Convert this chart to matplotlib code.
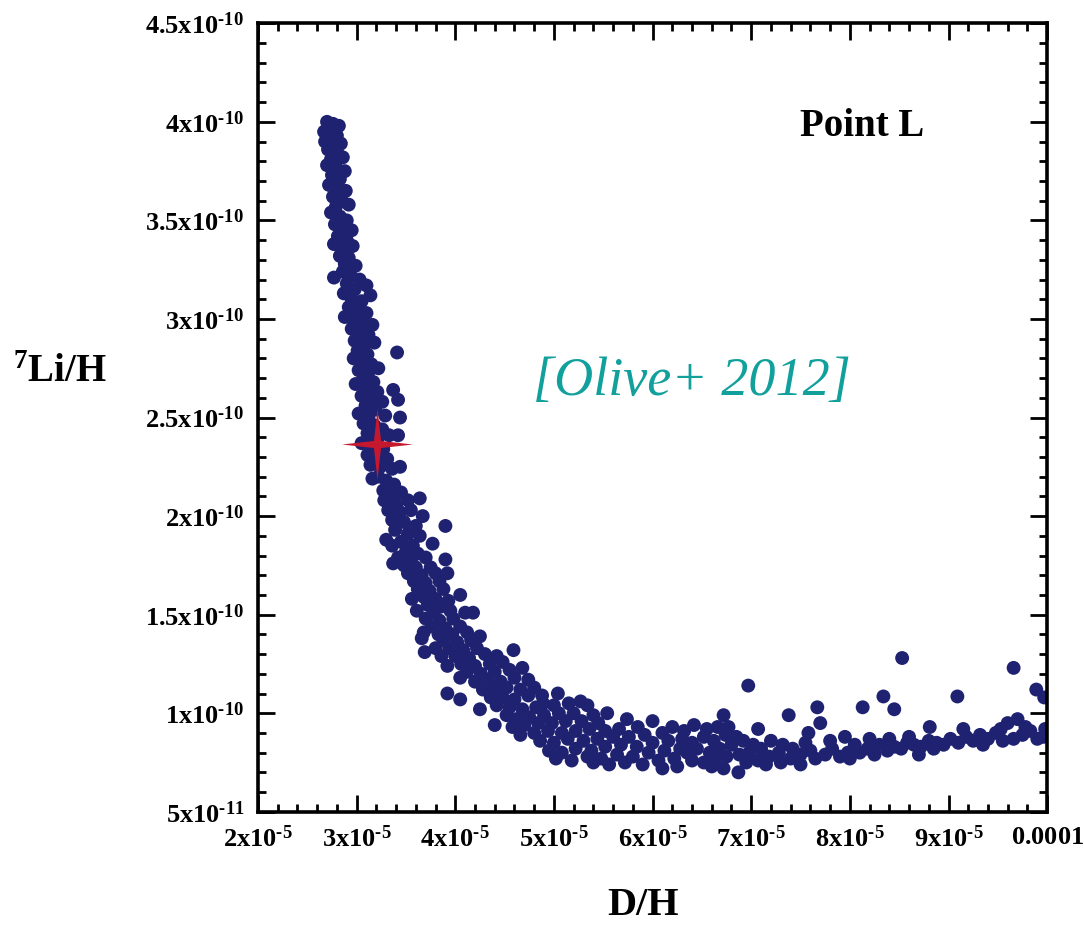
import numpy as np
import matplotlib.pyplot as plt
from matplotlib.path import Path
from matplotlib.ticker import FixedLocator, MultipleLocator

plt.rcParams['font.family'] = ['Liberation Serif', 'DejaVu Serif']
plt.rcParams['font.weight'] = 'bold'
plt.rcParams['mathtext.fontset'] = 'custom'
plt.rcParams['mathtext.rm'] = 'Liberation Serif:bold'
plt.rcParams['mathtext.bf'] = 'Liberation Serif:bold'
plt.rcParams['mathtext.it'] = 'Liberation Serif:bold:italic'

# (D/H in 1e-5, 7Li/H in 1e-10)
upper = [(2.70, 4.00), (2.76, 3.99), (2.82, 3.98), (2.67, 3.95), (2.74, 3.96), (2.80, 3.93), (2.68, 3.90),
         (2.77, 3.91), (2.84, 3.89), (2.71, 3.86), (2.80, 3.85), (2.74, 3.81), (2.86, 3.82), (2.70, 3.78),
         (2.79, 3.77), (2.88, 3.75), (2.75, 3.73), (2.83, 3.71), (2.72, 3.68), (2.80, 3.66), (2.89, 3.65),
         (2.76, 3.62), (2.85, 3.60), (2.79, 3.57), (2.92, 3.58), (2.74, 3.54), (2.83, 3.52), (2.90, 3.50),
         (2.78, 3.48), (2.87, 3.46), (2.95, 3.45), (2.81, 3.42), (2.90, 3.40), (2.77, 3.38), (2.85, 3.36),
         (2.96, 3.37), (2.83, 3.32), (2.92, 3.31), (2.88, 3.28), (2.99, 3.27), (2.77, 3.21), (2.86, 3.24),
         (2.94, 3.22), (3.03, 3.20), (2.90, 3.18), (2.98, 3.15), (3.10, 3.17), (2.87, 3.13), (2.95, 3.10),
         (3.05, 3.09), (3.14, 3.12), (2.92, 3.06), (3.00, 3.04), (3.10, 3.03), (2.88, 3.01), (2.97, 2.99),
         (3.06, 2.98), (3.16, 2.97)]

middle = [(2.95, 2.95), (3.03, 2.93), (3.12, 2.92), (2.98, 2.89), (3.08, 2.87), (3.18, 2.88), (3.01, 2.84),
          (3.11, 2.82), (2.97, 2.80), (3.06, 2.78), (3.15, 2.77), (3.41, 2.83), (3.02, 2.74), (3.12, 2.73),
          (3.22, 2.75), (3.07, 2.70), (3.17, 2.68), (2.99, 2.67), (3.10, 2.64), (3.21, 2.63), (3.37, 2.64),
          (3.05, 2.61), (3.15, 2.59), (3.42, 2.59), (3.26, 2.58), (3.09, 2.56), (3.19, 2.54), (3.02, 2.52),
          (3.12, 2.50), (3.29, 2.51), (3.44, 2.50), (3.07, 2.47), (3.18, 2.46), (3.26, 2.44), (3.11, 2.42),
          (3.42, 2.41), (3.22, 2.40), (3.33, 2.41), (3.05, 2.37), (3.15, 2.36), (3.27, 2.34), (3.11, 2.31),
          (3.20, 2.30), (3.31, 2.29), (3.14, 2.26), (3.24, 2.25), (3.44, 2.25), (3.36, 2.24), (3.16, 2.19),
          (3.22, 2.20), (3.30, 2.18), (3.38, 2.16), (3.27, 2.13), (3.35, 2.11), (3.45, 2.12), (3.28, 2.08),
          (3.40, 2.06), (3.52, 2.08), (3.64, 2.09), (3.32, 2.03), (3.44, 2.02), (3.55, 2.03), (3.67, 2.00),
          (3.90, 1.95)]

knee = [(3.36, 1.98), (3.48, 1.97), (3.60, 1.95), (3.39, 1.93), (3.52, 1.91), (3.64, 1.90), (3.30, 1.88),
        (3.45, 1.87), (3.57, 1.85), (3.77, 1.86), (3.36, 1.85), (3.50, 1.82), (3.62, 1.81), (3.42, 1.79),
        (3.55, 1.78), (3.70, 1.79), (3.90, 1.78), (3.37, 1.76), (3.48, 1.75), (3.60, 1.74), (3.75, 1.74),
        (3.52, 1.71), (3.66, 1.70), (3.80, 1.71), (3.92, 1.71), (3.58, 1.67), (3.70, 1.66), (3.84, 1.67),
        (3.62, 1.63), (3.74, 1.62), (3.88, 1.63), (3.56, 1.58), (3.68, 1.59), (3.80, 1.58), (4.05, 1.60),
        (3.93, 1.57), (3.72, 1.55), (3.85, 1.54), (3.61, 1.52), (3.78, 1.51), (3.95, 1.52), (4.10, 1.51),
        (4.18, 1.51), (3.70, 1.48), (3.84, 1.47), (3.98, 1.48), (3.76, 1.44), (3.90, 1.43), (4.05, 1.44),
        (3.68, 1.41), (3.83, 1.40), (3.97, 1.40), (4.12, 1.41), (4.25, 1.39), (3.66, 1.38), (3.88, 1.37),
        (4.02, 1.36), (4.16, 1.37), (3.69, 1.31), (3.80, 1.33), (3.94, 1.33), (4.08, 1.32), (4.22, 1.33),
        (4.59, 1.32)]

bend = [(3.86, 1.29), (4.00, 1.29), (4.14, 1.28), (4.30, 1.30), (4.42, 1.29), (3.92, 1.24), (4.06, 1.25),
        (4.20, 1.24), (4.35, 1.25), (4.48, 1.26), (4.05, 1.18), (4.12, 1.21), (4.26, 1.20), (4.40, 1.21),
        (4.55, 1.22), (4.68, 1.23), (4.20, 1.16), (4.33, 1.17), (4.46, 1.16), (4.60, 1.18), (4.74, 1.17),
        (3.92, 1.10), (4.05, 1.07), (4.28, 1.12), (4.40, 1.12), (4.52, 1.13), (4.66, 1.12), (4.80, 1.13),
        (4.36, 1.08), (4.48, 1.08), (4.60, 1.07), (4.74, 1.09), (4.88, 1.09), (5.04, 1.10), (4.25, 1.02),
        (4.42, 1.04), (4.55, 1.03), (4.68, 1.02), (4.89, 1.05), (4.82, 1.03), (5.00, 1.04), (5.15, 1.05),
        (5.34, 1.04), (5.27, 1.06)]

trough = [(4.40, 0.94), (4.52, 0.99), (4.62, 0.97), (4.75, 0.98), (4.90, 0.99), (5.05, 1.00), (5.20, 1.00),
          (5.54, 1.00), (5.40, 0.99), (4.58, 0.93), (4.70, 0.94), (4.84, 0.95), (4.98, 0.95), (5.12, 0.96),
          (5.28, 0.96), (5.45, 0.95), (5.74, 0.97), (6.00, 0.96), (4.66, 0.89), (4.80, 0.90), (4.94, 0.91),
          (5.08, 0.90), (5.22, 0.91), (5.36, 0.92), (5.52, 0.91), (5.66, 0.92), (5.85, 0.93), (4.86, 0.86),
          (5.00, 0.85), (5.14, 0.87), (5.30, 0.86), (5.44, 0.87), (5.60, 0.88), (5.76, 0.88), (5.92, 0.89),
          (6.10, 0.90), (4.95, 0.81), (5.08, 0.80), (5.22, 0.82), (5.38, 0.81), (5.52, 0.83), (5.68, 0.84),
          (5.84, 0.83), (6.00, 0.85), (6.16, 0.86), (5.02, 0.77), (5.18, 0.76), (5.34, 0.78), (5.48, 0.77),
          (5.64, 0.79), (5.80, 0.78), (5.96, 0.80), (6.12, 0.81), (6.28, 0.82), (5.40, 0.75), (5.56, 0.74),
          (5.72, 0.75), (5.90, 0.74), (6.06, 0.76), (6.22, 0.77), (6.10, 0.72), (6.25, 0.73)]

flat = [(6.20, 0.93), (6.32, 0.91), (6.42, 0.94), (6.55, 0.92), (6.66, 0.93), (6.72, 0.99), (6.77, 0.93),
        (6.30, 0.87), (6.40, 0.85), (6.52, 0.88), (6.62, 0.86), (6.74, 0.89), (6.85, 0.88), (6.35, 0.80),
        (6.45, 0.82), (6.58, 0.80), (6.68, 0.82), (6.80, 0.84), (6.92, 0.86), (7.02, 0.84), (6.40, 0.76),
        (6.52, 0.75), (6.64, 0.77), (6.75, 0.78), (6.88, 0.79), (6.98, 0.80), (7.10, 0.82), (6.60, 0.73),
        (6.72, 0.72), (6.87, 0.70), (6.95, 0.75), (7.07, 0.76), (7.18, 0.78), (7.28, 0.80), (7.07, 0.92),
        (7.20, 0.86), (7.32, 0.84), (7.42, 0.82), (7.38, 0.99), (7.15, 0.74), (7.30, 0.75), (7.40, 0.77),
        (7.50, 0.79), (7.55, 0.85), (7.50, 0.74), (7.60, 0.81), (7.70, 0.95), (7.65, 0.77), (7.75, 0.79),
        (7.82, 0.82), (7.90, 0.78), (7.98, 0.80), (8.05, 0.84), (8.00, 0.77), (8.10, 0.80), (8.18, 0.82),
        (8.25, 0.79), (8.30, 0.84), (8.38, 0.81), (8.45, 0.83), (8.52, 0.82), (8.58, 0.85), (8.65, 0.84),
        (8.72, 0.83), (8.80, 0.86), (8.88, 0.85), (8.95, 0.84), (8.20, 0.87), (8.40, 0.87), (8.60, 0.88),
        (8.81, 0.93), (7.80, 0.86), (7.58, 0.90), (7.95, 0.88), (8.70, 0.79), (8.85, 0.82)]

tail = [(9.02, 0.87), (9.10, 0.85), (9.18, 0.88), (9.25, 0.86), (9.32, 0.89), (9.40, 0.87), (9.48, 0.90),
        (9.53, 0.92), (9.60, 0.95), (9.70, 0.97), (9.66, 0.87), (9.75, 0.89), (9.83, 0.91), (9.90, 0.87),
        (9.96, 0.88), (9.98, 0.92), (9.15, 0.92), (9.35, 0.84), (9.55, 0.86), (9.78, 0.93)]

outliers = [(6.97, 1.14), (7.67, 1.03), (8.13, 1.03), (8.34, 1.085), (8.45, 1.02), (8.53, 1.28),
            (9.09, 1.085), (9.66, 1.23), (9.89, 1.12), (9.97, 1.08)]

best_fit = (3.21, 2.365)

x_ticks = [2e-5, 3e-5, 4e-5, 5e-5, 6e-5, 7e-5, 8e-5, 9e-5, 1e-4]
x_labels = ['2x10^{\u20105}', '3x10^{\u20105}', '4x10^{\u20105}', '5x10^{\u20105}', '6x10^{\u20105}',
            '7x10^{\u20105}', '8x10^{\u20105}', '9x10^{\u20105}', '0.0001']
y_ticks = [5e-11, 1e-10, 1.5e-10, 2e-10, 2.5e-10, 3e-10, 3.5e-10, 4e-10, 4.5e-10]
y_labels = ['5x10^{\u201011}', '1x10^{\u201010}', '1.5x10^{\u201010}', '2x10^{\u201010}',
            '2.5x10^{\u201010}', '3x10^{\u201010}', '3.5x10^{\u201010}', '4x10^{\u201010}',
            '4.5x10^{\u201010}']

pts = np.array(upper + middle + knee + bend + trough + flat + tail + outliers)
dh = pts[:, 0] * 1e-5
li = pts[:, 1] * 1e-10

fig = plt.figure(figsize=(10.84, 9.32), dpi=100)
ax = fig.add_axes([0.238, 0.129, 0.728, 0.846])

ax.scatter(dh, li, s=100, c='#1f2270', edgecolors='none', zorder=2)

# four pointed star marker (thin tapered arms)
w = 0.1
star = Path([(1, 0), (w, w), (0, 1), (-w, w), (-1, 0), (-w, -w), (0, -1), (w, -w), (1, 0)], closed=True)
ax.plot(best_fit[0] * 1e-5, best_fit[1] * 1e-10, marker=star, markersize=51,
        color='#c4182e', mec='none', ls='none', zorder=3)

ax.set_xlim(2e-5, 1e-4)
ax.set_ylim(5e-11, 4.5e-10)
ax.xaxis.set_major_locator(FixedLocator(x_ticks))
ax.yaxis.set_major_locator(FixedLocator(y_ticks))
ax.set_xticklabels(['$\\mathrm{' + s + '}$' for s in x_labels])
ax.set_yticklabels(['$\\mathrm{' + s + '}$' for s in y_labels])
ax.xaxis.set_minor_locator(MultipleLocator(2e-6))
ax.yaxis.set_minor_locator(MultipleLocator(1e-11))
ax.tick_params(which='both', direction='in', top=True, right=True, width=2, labelsize=19)
ax.tick_params(which='major', length=12, pad=10)
ax.tick_params(which='minor', length=6)
for sp in ax.spines.values():
    sp.set_linewidth(2.6)

fig.text(0.055, 0.6, '$^{7}\\mathrm{Li/H}$', fontsize=28, ha='center', va='center')
fig.text(0.593, 0.028, 'D/H', fontsize=29, ha='center', va='center')
ax.text(0.766, 0.869, 'Point L', transform=ax.transAxes, fontsize=28, ha='center', va='center')
ax.text(0.55, 0.546, '[Olive+ 2012]', transform=ax.transAxes, fontsize=39, ha='center', va='center',
        color='#12a09c', style='italic', weight='normal')

fig.savefig('out.png', dpi=100)
